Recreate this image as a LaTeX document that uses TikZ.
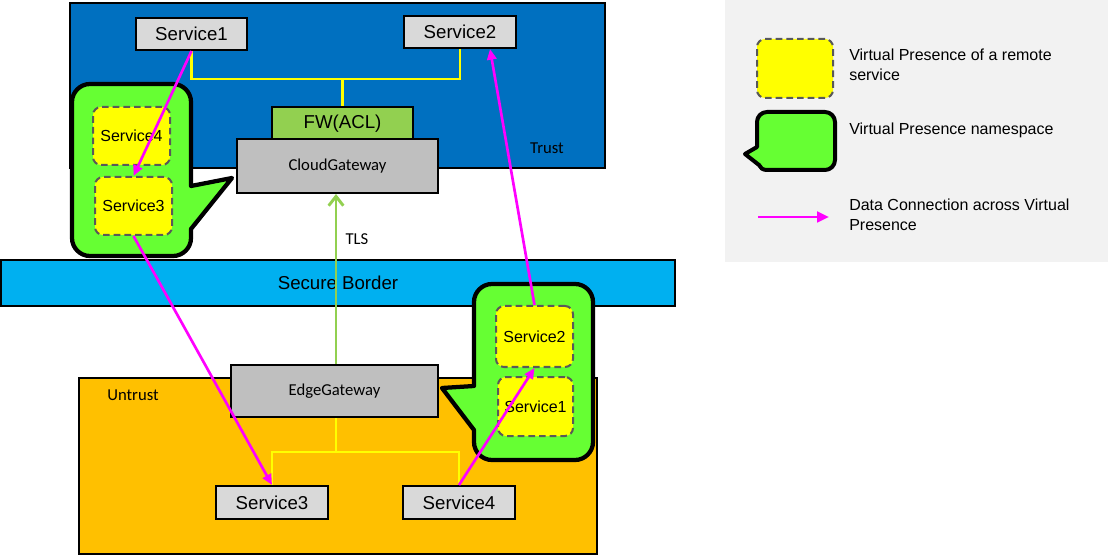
\documentclass[tikz,border=0pt]{standalone}
\usepackage{fontspec}
\setmainfont{Liberation Sans}
\newfontfamily\calibfont{Carlito}
\usetikzlibrary{arrows.meta,calc}
\definecolor{trustblue}{HTML}{0070C0}
\definecolor{untrustorange}{HTML}{FFC000}
\definecolor{borderblue}{HTML}{00B0F0}
\definecolor{svcgray}{HTML}{D9D9D9}
\definecolor{gwgray}{HTML}{BFBFBF}
\definecolor{fwgreen}{HTML}{92D050}
\definecolor{nsgreen}{HTML}{66FF33}
\definecolor{vpyellow}{HTML}{FFFF00}
\definecolor{dashgray}{HTML}{595959}
\definecolor{legendbg}{HTML}{F2F2F2}
\definecolor{datamag}{HTML}{FF00FF}
\begin{document}
\begin{tikzpicture}[x=0.75pt,y=-0.75pt,
  region/.style={draw=black,line width=1.5pt,inner sep=0pt},
  svc/.style={draw=black,line width=1.5pt,fill=svcgray,inner sep=0pt,font=\fontsize{14}{16}\selectfont},
  gw/.style={draw=black,line width=1.5pt,fill=gwgray,inner sep=0pt,font=\calibfont\fontsize{12.5}{15}\selectfont},
  vp/.style={draw=dashgray,line width=1.5pt,dash pattern=on 5pt off 3pt,fill=vpyellow,rounded corners=6pt,inner sep=0pt,font=\fontsize{12}{14}\selectfont},
  ns/.style={draw=black,line width=3.2pt,fill=nsgreen,line join=round},
  yline/.style={draw=vpyellow,line width=2.2pt},
  data/.style={draw=datamag,line width=2pt,-{Triangle[length=8pt,width=7pt]}},
  tls/.style={draw=fwgreen,line width=2.2pt,-{Straight Barb[length=7pt,width=11pt]}},
  lbl/.style={font=\calibfont\fontsize{12.5}{15}\selectfont,inner sep=0pt},
  legtext/.style={font=\fontsize{12}{15}\selectfont,align=left,anchor=west,inner sep=0pt}
]
\useasboundingbox (0,0) rectangle (1108,556);
\fill[white] (0,0) rectangle (1108,556);

% legend background
\fill[legendbg] (725,0) rectangle (1108,262);

% Trust region
\node[region,fill=trustblue,minimum width=401.25pt,minimum height=123.75pt] (trust) at (337.5,85.5) {};
\node[lbl] (trustlbl) at (547,148) {Trust};

% FW and CloudGateway
\node[region,fill=fwgreen,minimum width=105.75pt,minimum height=25.5pt,font=\fontsize{14}{16}\selectfont] (fw) at (342.5,124) {FW(ACL)};
\node[gw,minimum width=150.75pt,minimum height=40.5pt] (cg) at (337.5,166) {CloudGateway};

% top services
\node[svc,minimum width=83.25pt,minimum height=24pt] (s1) at (191.5,34) {Service1};
\node[svc,minimum width=84pt,minimum height=24pt] (s2) at (460,32) {Service2};

% yellow bus top
\coordinate (bustop) at (342.5,79);
\draw[yline] (s1.south) |- (bustop) -| (s2.south);
\draw[yline] (fw.north) -- (fw.north |- bustop);

% left namespace callout
\path[ns] (90,84) -- (173,84) .. controls (182.9,84) and (191,92.1) .. (191,102) -- (191,186) -- (232,178) -- (191,229) -- (191,238) .. controls (191,247.9) and (182.9,256) .. (173,256) -- (90,256) .. controls (80.1,256) and (72,247.9) .. (72,238) -- (72,102) .. controls (72,92.1) and (80.1,84) .. (90,84) -- cycle;
\node[vp,minimum width=57.75pt,minimum height=43.5pt] (vp4) at (131.5,136) {Service4};
\node[vp,minimum width=57.75pt,minimum height=43.5pt] (vp3) at (133.5,206) {Service3};

% Secure border
\node[region,fill=borderblue,minimum width=505.5pt,minimum height=34.5pt,font=\fontsize{14}{16}\selectfont] (sb) at (338,283) {Secure Border};

% Untrust region
\node[region,fill=untrustorange,minimum width=388.5pt,minimum height=132pt] (untrust) at (338,466) {};
\node[lbl] (untrustlbl) at (133,395) {Untrust};

% EdgeGateway
\node[gw,minimum width=155.25pt,minimum height=39pt] (eg) at (334.5,391) {EdgeGateway};

% right namespace callout
\path[ns] (492,284) -- (575,284) .. controls (584.9,284) and (593,292.1) .. (593,302) -- (593,442) .. controls (593,451.9) and (584.9,460) .. (575,460) -- (492,460) .. controls (482.1,460) and (474,451.9) .. (474,442) -- (474,430) -- (442,388) -- (474,386) -- (474,302) .. controls (474,292.1) and (482.1,284) .. (492,284) -- cycle;
\node[vp,minimum width=57.75pt,minimum height=45.75pt] (vp2) at (534.5,336.5) {Service2};
\node[vp,minimum width=56.25pt,minimum height=44.25pt] (vp1) at (535.5,406.5) {Service1};

% bottom services
\node[svc,minimum width=84pt,minimum height=24.75pt] (s3) at (272,502.5) {Service3};
\node[svc,minimum width=84pt,minimum height=24.75pt] (s4) at (459,502.5) {Service4};

% yellow bus bottom
\coordinate (busbot) at (336,452);
\draw[yline] (eg.south -| busbot) -- (busbot);
\draw[yline] (s3.north) |- (busbot) -| (s4.north);

% TLS
\draw[tls] (eg.north -| busbot) -- (cg.south -| busbot);
\node[lbl] (tlslbl) at (357,239) {TLS};

% data connections
\draw[data] (s1.south) -- (vp3.north);
\draw[data] (vp3.south) -- (s3.north);
\draw[data] (s4.north) -- (vp2.south);
\coordinate (s2in) at ($(s2.south)+(30,0)$);
\draw[data] (vp2.north) -- (s2in);

% legend
\node[vp,minimum width=57pt,minimum height=44.25pt] (legvp) at (795,68.5) {};
\node[legtext] (legvptxt) at (849,65) {Virtual Presence of a remote\\service};
\path[ns,line width=3pt] (767,112) -- (825,112) .. controls (830.5,112) and (835,116.5) .. (835,122) -- (835,160) .. controls (835,165.5) and (830.5,170) .. (825,170) -- (767,170) .. controls (763,170) and (760,168) .. (759,165) -- (745,154) -- (757,147) -- (757,122) .. controls (757,116.5) and (761.5,112) .. (767,112) -- cycle;
\node[legtext] (legnstxt) at (849,130) {Virtual Presence namespace};
\coordinate (legA) at (758,217);
\coordinate (legB) at (829,217);
\draw[data,-{Triangle[length=9pt,width=8pt]}] (legA) -- (legB);
\node[legtext] (legdatatxt) at (849,215) {Data Connection across Virtual\\Presence};
\end{tikzpicture}
\end{document}
